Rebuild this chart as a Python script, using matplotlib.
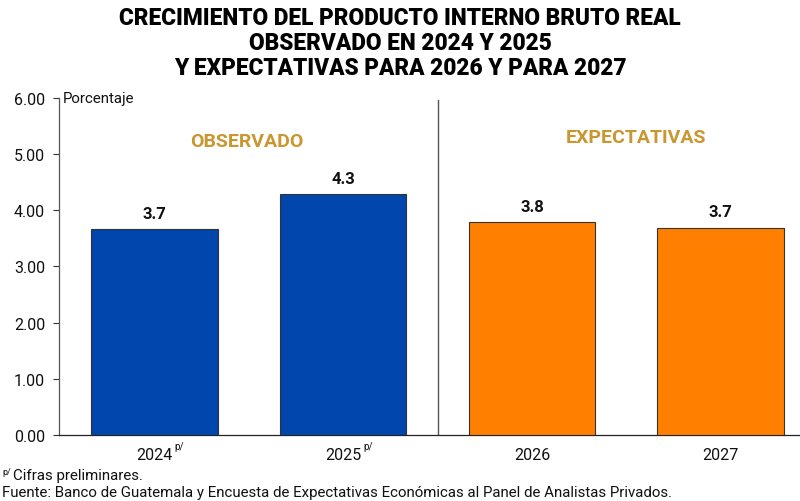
import matplotlib
matplotlib.use("Agg")
import matplotlib.pyplot as plt
from matplotlib.transforms import blended_transform_factory, offset_copy

categories = ["2024", "2025", "2026", "2027"]
superscripts = ["p/", "p/", "", ""]
values = [3.66, 4.29, 3.79, 3.69]
value_labels = ["3.7", "4.3", "3.8", "3.7"]
colors = ["#0046AD", "#0046AD", "#FF8000", "#FF8000"]
yticks = [0, 1, 2, 3, 4, 5, 6]

plt.rcParams['font.family'] = ['Roboto', 'DejaVu Sans']

fig = plt.figure(figsize=(8, 5.02), dpi=100)
ax = fig.add_axes([0.07375, 0.1315, 0.92625, 0.6713])

x = list(range(len(categories)))
ax.bar(x, values, width=0.67, color=colors, edgecolor="#333333", linewidth=0.8, zorder=3)

for xi, v, lab in zip(x, values, value_labels):
    ax.annotate(lab, (xi, v), xytext=(0, 6), textcoords="offset points",
                ha="center", va="bottom", fontsize=12, fontweight="bold", color="#111111")

ax.set_xlim(-0.505, 3.42)
ax.set_ylim(0, 6)
ax.set_yticks(yticks)
ax.set_yticklabels([f"{t:.2f}" for t in yticks], fontsize=11.5, color="#111111")
ax.set_xticks(x)
ax.set_xticklabels(categories, fontsize=11.5, color="#111111")
ax.tick_params(axis="x", length=0, pad=9)
ax.tick_params(axis="y", length=4, width=0.8, direction="out", pad=6, color="#333333")

for s in ["top", "right"]:
    ax.spines[s].set_visible(False)
ax.spines["left"].set_color("#555555")
ax.spines["bottom"].set_color("#222222")
ax.spines["left"].set_linewidth(0.9)
ax.spines["bottom"].set_linewidth(0.9)

# superscripts on tick labels
trans = blended_transform_factory(ax.transData, ax.transAxes)
for xi, sup in zip(x, superscripts):
    if sup:
        t = offset_copy(trans, fig=fig, x=20, y=-11, units="dots")
        ax.text(xi, 0, sup, transform=t, fontsize=7, ha="left", va="center", color="#111111")

# divider
ax.axvline(1.5, ymin=0, ymax=0.995, color="#555555", linewidth=1.0)

ax.text(0.49, 5.23, "OBSERVADO", ha="center", va="center", fontsize=14,
        fontweight="bold", color="#C9962F")
ax.text(2.55, 5.3, "EXPECTATIVAS", ha="center", va="center", fontsize=14,
        fontweight="bold", color="#C9962F")

ax.text(0.005, 1.0, "Porcentaje", transform=ax.transAxes, ha="left", va="center",
        fontsize=10.8, color="#111111")

fig.text(0.5, 0.987, "CRECIMIENTO DEL PRODUCTO INTERNO BRUTO REAL\nOBSERVADO EN 2024 Y 2025\nY EXPECTATIVAS PARA 2026 Y PARA 2027",
         ha="center", va="top", fontsize=16.3, fontweight=900, linespacing=1.13,
         color="#000000")

fig.text(0.003, 0.058, "p/", fontsize=6.5, ha="left", va="center", color="#111111")
fig.text(0.016, 0.052, "Cifras preliminares.", fontsize=10.8, ha="left", va="center", color="#111111")
fig.text(0.003, 0.018, "Fuente: Banco de Guatemala y Encuesta de Expectativas Económicas al Panel de Analistas Privados.",
         fontsize=10.8, ha="left", va="center", color="#111111")

fig.savefig("out.png", dpi=100)
